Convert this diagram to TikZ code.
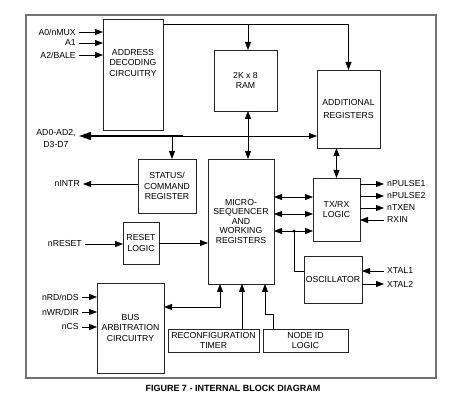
\documentclass[tikz,border=0pt]{standalone}
\usepackage{fontspec}
\setmainfont{Liberation Sans}
\usetikzlibrary{arrows.meta}
\begin{document}
\begin{tikzpicture}[x=1pt,y=-1pt,
  font=\fontsize{8.7}{10.5}\selectfont,
  box/.style={draw=black!85, line width=0.9pt, align=center, anchor=north west, inner sep=0pt, outer sep=0pt},
  arr/.style={-{Triangle[length=8pt,width=6pt]}, line width=0.8pt},
  darr/.style={{Triangle[length=8pt,width=6pt]}-{Triangle[length=8pt,width=6pt]}, line width=0.8pt},
  sig/.style={inner sep=3pt},
]
\useasboundingbox (0,0) rectangle (467,401);
\draw[black!55, line width=1.3pt] (26,15) rectangle (436,378);

% boxes
\node[box, minimum width=60pt, minimum height=111pt,
  label={[anchor=north, yshift=-30pt, align=center, inner sep=0pt]north:ADDRESS\\DECODING\\CIRCUITRY}] (addr) at (103,19) {};
\node[box, minimum width=63pt, minimum height=61pt] (ram) at (214,50) {2K x 8\\RAM};
\node[box, minimum width=63pt, minimum height=78pt] (addreg) at (317,70) {ADDITIONAL\\[3pt]REGISTERS};
\node[box, minimum width=58pt, minimum height=54pt] (status) at (138,159) {STATUS/\\COMMAND\\REGISTER};
\node[box, minimum width=66pt, minimum height=125pt, font=\fontsize{8.7}{9.5}\selectfont] (micro) at (208,159) {MICRO-\\SEQUENCER\\AND\\WORKING\\REGISTERS};
\node[box, minimum width=36pt, minimum height=42pt] (reset) at (123,222) {RESET\\LOGIC};
\node[box, minimum width=67pt, minimum height=90pt] (busarb) at (97,283) {BUS\\ARBITRATION\\CIRCUITRY};
\node[box, minimum width=91pt, minimum height=23pt] (reconf) at (168,329) {RECONFIGURATION\\TIMER};
\node[box, minimum width=85pt, minimum height=23pt] (nodeid) at (263,329) {NODE ID\\LOGIC};
\node[box, minimum width=47pt, minimum height=63pt] (txrx) at (313,178) {TX/RX\\LOGIC};
\node[box, minimum width=58pt, minimum height=47pt] (osc) at (304,256) {OSCILLATOR};

% left inputs
\node[sig, anchor=east] (a0) at (79,32) {A0/nMUX};
\node[sig, anchor=east] (a1) at (79,43) {A1};
\node[sig, anchor=east] (a2) at (79,55) {A2/BALE};
\foreach \n in {a0,a1,a2} \draw[arr] (\n.east) -- (\n.east -| addr.west);

\node[sig, anchor=east] (nrd) at (82,297) {nRD/nDS};
\node[sig, anchor=east] (nwr) at (82,312) {nWR/DIR};
\node[sig, anchor=east] (ncs) at (82,327) {nCS};
\foreach \n in {nrd,nwr,ncs} \draw[arr] (\n.east) -- (\n.east -| busarb.west);

\node[sig, anchor=east] (nreset) at (85,244) {nRESET};
\draw[arr] (nreset.east) -- (nreset.east -| reset.west);
\node[sig, anchor=east] (nintr) at (83,184) {nINTR};
\draw[arr] (nintr.east -| status.west) -- (nintr.east);

% bus
\node[align=center, font=\fontsize{8.7}{12}\selectfont] (ad) at (56,138.5) {AD0-AD2,\\D3-D7};
\coordinate (busL) at (79,136);
\coordinate (busJ) at (183,136);
\draw[line width=1.8pt, -{Triangle[length=12pt,width=8pt]}] (busJ) -- (busL);
\draw[arr] (busJ) -- (busL -| addreg.west);
\draw[arr] ([xshift=5pt]status.north |- busL) -- ([xshift=5pt]status.north);

% top line
\draw[arr] ([yshift=-5pt]addr.north east) -| (addreg.north);
\coordinate (vx) at (248,24);
\draw[arr] (vx) -- (vx |- ram.north);
\draw[darr] (vx |- ram.south) -- (vx |- micro.north);
\draw[darr] (txrx.north |- addreg.south) -- (txrx.north);

% micro <-> txrx
\coordinate (t1) at (0,197);
\coordinate (t2) at (0,214);
\coordinate (t3) at (0,231);
\foreach \t in {t1,t2,t3} \draw[darr] (micro.east |- \t) -- (txrx.west |- \t);
\coordinate (dot) at (294,231);
\coordinate (oy) at (0,271);
\fill (dot) circle (1.7pt);
\draw[line width=0.8pt] (dot) |- (osc.west |- oy);

% reset -> micro
\draw[arr] (reset.east) -- (reset.east -| micro.west);

% bottom connections
\coordinate (m1) at (220,307);
\draw[darr] (m1 -| busarb.east) -| (m1 |- micro.south);
\coordinate (m2) at (242,0);
\draw[arr] (m2 |- reconf.north) -- (m2 |- micro.south);
\coordinate (m3) at (273,314);
\coordinate (m4) at (265,314);
\draw[arr] (m3 |- nodeid.north) -- (m3) -- (m4) -- (m4 |- micro.south);

% tx/rx signals
\node[sig, anchor=west] (np1) at (384,184) {nPULSE1};
\node[sig, anchor=west] (np2) at (384,196) {nPULSE2};
\node[sig, anchor=west] (ntx) at (384,208) {nTXEN};
\node[sig, anchor=west] (rxin) at (384,220) {RXIN};
\foreach \n in {np1,np2,ntx} \draw[arr] (\n.west -| txrx.east) -- (\n.west);
\draw[arr] (rxin.west) -- (rxin.west -| txrx.east);

% oscillator signals
\node[sig, anchor=west] (x1) at (384,271) {XTAL1};
\node[sig, anchor=west] (x2) at (384,284) {XTAL2};
\draw[arr] (x1.west) -- (x1.west -| osc.east);
\draw[arr] (x2.west -| osc.east) -- (x2.west);

% caption
\node[font=\bfseries\fontsize{9}{10}\selectfont] (cap) at (233,388) {FIGURE 7 - INTERNAL BLOCK DIAGRAM};
\end{tikzpicture}
\end{document}
